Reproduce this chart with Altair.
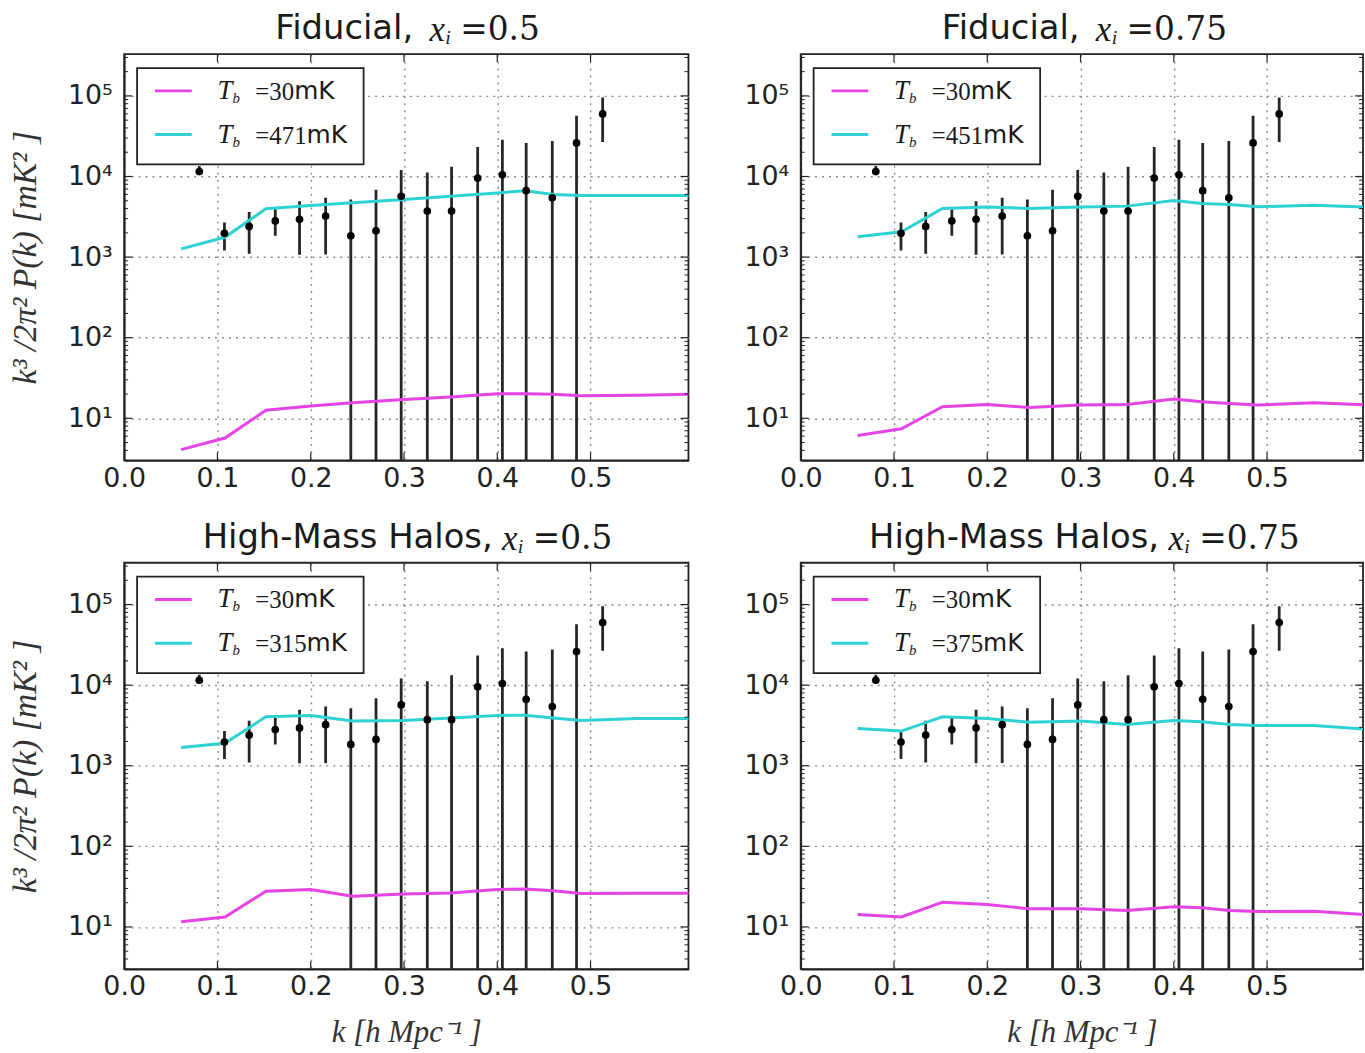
import altair as alt
import pandas as pd

# ---------------- data ----------------
K_PTS = [0.0805, 0.1075, 0.134, 0.162, 0.188, 0.216, 0.243, 0.270, 0.297,
         0.325, 0.351, 0.379, 0.4055, 0.431, 0.459, 0.485, 0.513]
P_PTS = [11500, 1970, 2400, 2810, 2950, 3230, 1840, 2120, 5690,
         3730, 3730, 9550, 10480, 6670, 5430, 26100, 59700]
P_HI = [13500, 2690, 3620, 3910, 4940, 5430, 5180, 6870, 12080,
        11200, 13250, 23300, 28600, 26100, 27600, 56900, 95400]
P_LO = [11000, 1210, 1100, 1840, 1070, 1080, 0.1, 0.1, 0.1,
        0.1, 0.1, 0.1, 0.1, 0.1, 0.1, 0.1, 26800]

K_LINE = [0.061, 0.108, 0.152, 0.200, 0.245, 0.300, 0.350, 0.400,
          0.430, 0.460, 0.490, 0.550, 0.610]

TL_CYAN = [1265, 1760, 3980, 4370, 4710, 5180, 5690, 6250, 6670, 5970, 5800, 5800, 5800]
TL_MAG = [4.09, 5.69, 12.6, 14.2, 15.6, 17.1, 18.4, 20.2, 20.2, 19.9, 19.1, 19.3, 19.9]
TR_CYAN = [1790, 2060, 4020, 4170, 4020, 4170, 4290, 5040, 4630, 4500, 4210, 4410, 4170]
TR_MAG = [6.13, 7.40, 13.9, 14.8, 13.6, 14.6, 14.8, 17.3, 16.0, 15.3, 14.6, 15.6, 14.6]
BL_CYAN = [1680, 1900, 4050, 4200, 3580, 3640, 3920, 4200, 4240, 3920, 3640, 3860, 3850]
BL_MAG = [11.6, 13.3, 27.7, 29.1, 24.0, 25.7, 26.4, 29.1, 29.6, 28.2, 26.0, 26.2, 26.2]
BR_CYAN = [2900, 2690, 4050, 3860, 3470, 3580, 3250, 3640, 3510, 3250, 3160, 3160, 2830]
BR_MAG = [14.3, 13.3, 20.3, 19.0, 16.8, 16.8, 16.0, 17.8, 17.3, 16.0, 15.5, 15.7, 14.1]

X_TICKS = [0.0, 0.1, 0.2, 0.3, 0.4, 0.5]
Y_TICKS = [10, 100, 1000, 10000, 100000]
Y_MINOR = [v * m for v in [1, 10, 100, 1000, 10000, 100000] for m in range(2, 10)
           if 3 <= v * m <= 330000]

MAG = "#e543e5"
CYAN = "#2fd2d2"

SANS_W = {"F": .575, "i": .278, "d": .635, "u": .634, "c": .550, "a": .613,
          "l": .278, ",": .318, "H": .752, "g": .635, "h": .634, "-": .361,
          "M": .863, "s": .521, "o": .612, " ": .318}
DSERIF_W = {"=": .838, ".": .318}


def sans_width(s, size):
    return sum(SANS_W.get(ch, .6) for ch in s) * size * 0.97


def dserif_width(s, size):
    return sum(DSERIF_W.get(ch, .636) for ch in s) * size * 0.97


H = 409
ONE = pd.DataFrame({"a": [0]})


def text_layer(txt, x, y, font, size, italic=False, align="left"):
    kw = dict(align=align, baseline="middle", font=font, fontSize=size, color="#1a1a1a")
    if italic:
        kw["fontStyle"] = "italic"
    return alt.Chart(ONE).mark_text(**kw).encode(
        x=alt.value(x), y=alt.value(y), text=alt.value(txt))


def panel(title_main, xi, cyan_vals, mag_vals, tb_hot, width, xmax, left, bottom):
    xs = alt.Scale(domain=[0, xmax], nice=False, zero=False)
    ys = alt.Scale(type="log", domain=[3, 330000], nice=False)
    xkw = dict(values=X_TICKS, format=".1f", labelFontSize=27, labelFont="DejaVu Sans",
               labelPadding=5, labelColor="#222", labelFlush=False)
    if bottom:
        xkw.update(title="k  [h  Mpc⁻¹ ]", titleFont="Liberation Serif", titleFontSize=31,
                   titleFontStyle="italic", titleFontWeight="normal", titlePadding=18,
                   titleColor="#333")
    else:
        xkw.update(title="")
    ykw = dict(values=Y_TICKS, labelFontSize=27, labelFont="DejaVu Sans", labelPadding=12,
               labelColor="#222",
               labelExpr="'10' + (datum.value > 50000 ? '⁵' : datum.value > 5000 ? '⁴' : "
                         "datum.value > 500 ? '³' : datum.value > 50 ? '²' : '¹')")
    if left:
        ykw.update(title="k³  /2π²    P(k)   [mK²  ]", titleFont="Liberation Serif",
                   titleFontSize=34, titleFontStyle="italic", titleFontWeight="normal",
                   titlePadding=25, titleColor="#333")
    else:
        ykw.update(title="")
    xaxis = alt.Axis(**xkw)
    yaxis = alt.Axis(**ykw)

    X = alt.X("k:Q", scale=xs, axis=xaxis)

    pts = pd.DataFrame({"k": K_PTS, "p": P_PTS, "lo": P_LO, "hi": P_HI})
    n = len(K_LINE)
    lines = pd.DataFrame({"k": K_LINE * 2, "p": mag_vals + cyan_vals,
                          "s": ["cold"] * n + ["hot"] * n})

    err = alt.Chart(pts).mark_rule(color="#262626", strokeWidth=2.8, clip=True).encode(
        x=X, y=alt.Y("lo:Q", scale=ys, axis=yaxis), y2="hi:Q")
    ln = alt.Chart(lines).mark_line(strokeWidth=3, clip=True).encode(
        x=X, y=alt.Y("p:Q", scale=ys, axis=yaxis),
        color=alt.Color("s:N", scale=alt.Scale(domain=["cold", "hot"], range=[MAG, CYAN]),
                        legend=None))
    dots = alt.Chart(pts).mark_circle(size=60, color="black", opacity=1).encode(
        x=X, y=alt.Y("p:Q", scale=ys, axis=yaxis))

    # inward ticks (matplotlib style)
    ymaj = pd.DataFrame({"v": Y_TICKS})
    ymin = pd.DataFrame({"v": Y_MINOR})
    xmaj = pd.DataFrame({"v": X_TICKS[1:]})
    tick_layers = [
        alt.Chart(ymaj).mark_rule(color="#222", strokeWidth=1.2).encode(
            y=alt.Y("v:Q", scale=ys, axis=yaxis), x=alt.value(0), x2=alt.value(8)),
        alt.Chart(ymin).mark_rule(color="#222", strokeWidth=1).encode(
            y=alt.Y("v:Q", scale=ys, axis=yaxis), x=alt.value(0), x2=alt.value(4)),
        alt.Chart(ymaj).mark_rule(color="#222", strokeWidth=1.2).encode(
            y=alt.Y("v:Q", scale=ys, axis=yaxis), x=alt.value(width - 8), x2=alt.value(width)),
        alt.Chart(ymin).mark_rule(color="#222", strokeWidth=1).encode(
            y=alt.Y("v:Q", scale=ys, axis=yaxis), x=alt.value(width - 4), x2=alt.value(width)),
        alt.Chart(xmaj).mark_rule(color="#222", strokeWidth=1.2).encode(
            x=alt.X("v:Q", scale=xs, axis=xaxis), y=alt.value(H - 8), y2=alt.value(H)),
        alt.Chart(xmaj).mark_rule(color="#222", strokeWidth=1.2).encode(
            x=alt.X("v:Q", scale=xs, axis=xaxis), y=alt.value(0), y2=alt.value(8)),
    ]

    # legend box
    box = alt.Chart(ONE).mark_rect(fill="white", stroke="#222", strokeWidth=1.8).encode(
        x=alt.value(13), x2=alt.value(241), y=alt.value(14), y2=alt.value(111))
    leg = [box]
    for yy, col, num in [(37, MAG, "30"), (81, CYAN, tb_hot)]:
        leg.append(alt.Chart(ONE).mark_rule(strokeWidth=3, color=col).encode(
            x=alt.value(31), x2=alt.value(68), y=alt.value(yy)))
        leg.append(text_layer("T", 94, yy, "Liberation Serif", 27, italic=True))
        leg.append(text_layer("b", 109, yy + 7, "Liberation Serif", 15, italic=True))
        eq = "=" + num
        leg.append(text_layer(eq, 132, yy + 1, "Liberation Serif", 25))
        wq = (0.564 + 0.5 * len(num)) * 25
        leg.append(text_layer("mK", 132 + wq, yy, "DejaVu Sans", 25))

    # composed title
    ts = 34
    w1 = sans_width(title_main, ts)
    w3 = dserif_width("=" + xi, 33)
    total = w1 + 18 + 15 + 6 + 10 + w3
    x0 = 284 - total / 2
    ty = -25
    tl = [
        text_layer(title_main, x0, ty, "DejaVu Sans", ts),
        text_layer("x", x0 + w1 + 18, ty + 1, "Liberation Serif", 35, italic=True),
        text_layer("i", x0 + w1 + 34, ty + 9, "Liberation Serif", 20, italic=True),
        text_layer("=" + xi, x0 + w1 + 49, ty + 1, "DejaVu Serif", 33),
    ]

    return alt.layer(err, ln, dots, *tick_layers, *leg, *tl).properties(
        width=width, height=H)


WL, WR = 568, 566
XL = 0.605
XR = XL * WR / WL

tl = panel("Fiducial,", "0.5", TL_CYAN, TL_MAG, "471", WL, XL, True, False)
tr = panel("Fiducial,", "0.75", TR_CYAN, TR_MAG, "451", WR, XR, False, False)
bl = panel("High-Mass Halos,", "0.5", BL_CYAN, BL_MAG, "315", WL, XL, True, True)
br = panel("High-Mass Halos,", "0.75", BR_CYAN, BR_MAG, "375", WR, XR, False, True)

chart = alt.vconcat(
    alt.hconcat(tl, tr, spacing=52),
    alt.hconcat(bl, br, spacing=52),
    spacing=28,
).properties(
    padding={"left": 7, "top": 8, "right": 0, "bottom": 0},
    background="white",
).configure_view(
    stroke="#222", strokeWidth=1.8
).configure_axis(
    domainColor="#222", domainWidth=1.8, ticks=False, grid=True,
    gridDash=[2, 5], gridColor="#8a8a8a", gridWidth=1.4,
).configure_concat(spacing=28)

chart.save("out.html", embed_options={"renderer": "svg", "actions": False})
